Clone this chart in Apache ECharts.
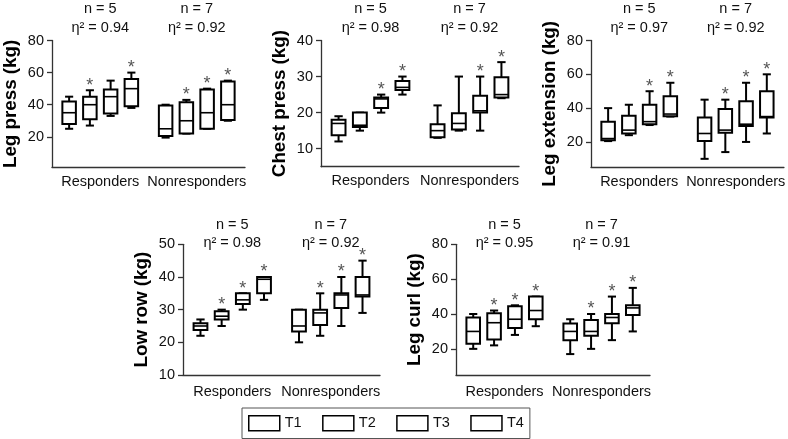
<!DOCTYPE html>
<html>
<head>
<meta charset="utf-8">
<script src="https://cdn.jsdelivr.net/npm/echarts@6.0.0/dist/echarts.min.js"></script>
<style>
html, body { margin: 0; padding: 0; background: #fff; }
#main { width: 788px; height: 439px; }
</style>
</head>
<body>
<div id="main"></div>
<script>
// 分组与时间点
var groups = ['Responders', 'Nonresponders'];
var timepoints = ['T1', 'T2', 'T3', 'T4'];
var nCounts = [5, 7];

// 每个时间点: [min, Q1, median, Q3, max]
var legPressResp = [[25, 28, 35, 42, 45], [27, 31, 40, 45, 49], [33, 34.5, 45, 49.5, 55], [38, 39, 50, 56, 60]];
var legPressNonresp = [[19.5, 20.5, 25, 39.5, 40], [22, 22, 30, 41.5, 43], [25, 25, 35, 49.5, 50], [30, 30.5, 40, 54.5, 55]];
var legPressStars = [[0, 1, 0, 1], [0, 1, 1, 1]];
var legPressEta = ['0.94', '0.92'];

var chestPressResp = [[12, 13.7, 17, 18, 19], [15, 16, 16.5, 20, 20], [20, 21.3, 23.8, 24.2, 25], [25, 26.3, 27, 28.8, 30]];
var chestPressNonresp = [[13, 13.2, 15, 16.8, 22], [15, 15.3, 17, 19.8, 30], [15, 20, 20.5, 24.7, 30], [24, 24.2, 25, 29.8, 34]];
var chestPressStars = [[0, 0, 1, 1], [0, 0, 1, 1]];
var chestPressEta = ['0.98', '0.92'];

var legExtResp = [[20.5, 21, 22, 32, 40], [24, 25, 27, 35.5, 42], [30, 30.5, 32, 42, 50], [35, 35.2, 36.5, 47, 55]];
var legExtNonresp = [[10, 20.5, 25, 34.5, 45], [14, 25.5, 27, 39.5, 45], [20, 29.5, 30.5, 44, 55], [25, 34.5, 35, 50, 60]];
var legExtStars = [[0, 0, 1, 1], [0, 1, 1, 1]];
var legExtEta = ['0.97', '0.92'];

var lowRowResp = [[22, 23.8, 25, 25.8, 27], [25, 27, 28, 29.5, 30], [30, 31.7, 33, 35, 35], [33, 35, 39.3, 40, 40]];
var lowRowNonresp = [[20, 23.3, 25, 30, 30], [22, 25.3, 29, 30, 35], [25, 30.5, 34.5, 35, 40], [29, 34, 34.5, 40, 45]];
var lowRowStars = [[0, 1, 1, 1], [0, 1, 1, 1]];
var lowRowEta = ['0.98', '0.92'];

var legCurlResp = [[20, 23, 30, 38, 40], [22, 25.3, 35, 40.5, 42], [28, 32, 37, 44.5, 45], [33, 37, 42, 50, 50]];
var legCurlNonresp = [[17, 25, 30, 34.5, 37], [20, 27.5, 30, 36.5, 40], [25, 34.7, 38, 40, 50], [30, 39.5, 43.5, 45, 55]];
var legCurlStars = [[0, 1, 1, 1], [0, 1, 1, 1]];
var legCurlEta = ['0.95', '0.91'];

// 坐标轴名称与刻度
var axisNames = ['Leg press (kg)', 'Chest press (kg)', 'Leg extension (kg)', 'Low row (kg)', 'Leg curl (kg)'];
var axisMin = [1, 5, 5, 10, 5];
var axisMax = [80, 40, 80, 50, 80];
var axisTicks = [[20, 40, 60, 80], [10, 20, 30, 40], [20, 40, 60, 80], [10, 20, 30, 40, 50], [20, 40, 60, 80]];

var panelData = [
    [legPressResp, legPressNonresp, legPressStars, legPressEta],
    [chestPressResp, chestPressNonresp, chestPressStars, chestPressEta],
    [legExtResp, legExtNonresp, legExtStars, legExtEta],
    [lowRowResp, lowRowNonresp, lowRowStars, lowRowEta],
    [legCurlResp, legCurlNonresp, legCurlStars, legCurlEta]
];

// 布局
var gridPos = [
    {left: 50, top: 36.7, width: 195, height: 130.6},
    {left: 321, top: 37.3, width: 198, height: 129.4},
    {left: 591, top: 36.7, width: 194, height: 130.6},
    {left: 183, top: 244.3, width: 197, height: 130.7},
    {left: 456, top: 244.3, width: 194, height: 130.7}
];
var topMargin = [3.5, 3.5, 3.5, -8, -8];
var bottomMargin = [7, 7, 7, 9, 9];

var FONT = 'Liberation Sans, Arial, sans-serif';
var axisColor = '#333';

function makeRender(t) {
    return function (params, api) {
        var cat = api.value(0);
        var band = api.size([1, 0])[0];
        var cx = api.coord([cat, 0])[0] + (t - 1.5) * band * 0.215;
        var bw = band * 0.14;
        var cw = bw * 0.6;
        var yMin = api.coord([cat, api.value(1)])[1];
        var yQ1 = api.coord([cat, api.value(2)])[1];
        var yMed = api.coord([cat, api.value(3)])[1];
        var yQ3 = api.coord([cat, api.value(4)])[1];
        var yMax = api.coord([cat, api.value(5)])[1];
        var ls = {stroke: '#000', lineWidth: 2};
        var children = [
            {type: 'line', shape: {x1: cx, y1: yMax, x2: cx, y2: yQ3}, style: ls},
            {type: 'line', shape: {x1: cx, y1: yQ1, x2: cx, y2: yMin}, style: ls},
            {type: 'line', shape: {x1: cx - cw / 2, y1: yMax, x2: cx + cw / 2, y2: yMax}, style: ls},
            {type: 'line', shape: {x1: cx - cw / 2, y1: yMin, x2: cx + cw / 2, y2: yMin}, style: ls},
            {type: 'rect', shape: {x: cx - bw / 2, y: yQ3, width: bw, height: yQ1 - yQ3}, style: {fill: '#fff', stroke: '#000', lineWidth: 2}},
            {type: 'line', shape: {x1: cx - bw / 2, y1: yMed, x2: cx + bw / 2, y2: yMed}, style: {stroke: '#000', lineWidth: 1.6}}
        ];
        // 显著性星号
        if (api.value(6) === 1) {
            children.push({
                type: 'text', x: cx, y: yMax - 4.5,
                style: {text: '*', fill: '#555', fontSize: 18, fontFamily: FONT, align: 'center', verticalAlign: 'middle'}
            });
        }
        return {type: 'group', children: children};
    };
}

var grids = [], xAxes = [], yAxes = [], series = [];
for (var i = 0; i < panelData.length; i++) {
    var resp = panelData[i][0], nonresp = panelData[i][1], stars = panelData[i][2];
    grids.push(gridPos[i]);
    xAxes.push({
        type: 'category', gridIndex: i, data: groups,
        axisLine: {lineStyle: {color: axisColor, width: 1.3}},
        axisTick: {alignWithLabel: true, length: 4, lineStyle: {color: axisColor, width: 1.3}},
        axisLabel: {interval: 0, fontSize: 14.5, fontFamily: FONT, color: '#111', margin: bottomMargin[i]}
    });
    yAxes.push({
        type: 'value', gridIndex: i, min: axisMin[i], max: axisMax[i],
        name: axisNames[i], nameLocation: 'middle', nameGap: 32,
        nameTextStyle: {fontWeight: 'bold', fontSize: 18.8, fontFamily: FONT, color: '#000'},
        axisLine: {show: true, lineStyle: {color: axisColor, width: 1.3}},
        axisTick: {show: true, length: 5, customValues: axisTicks[i], lineStyle: {color: axisColor, width: 1.3}},
        axisLabel: {customValues: axisTicks[i], fontSize: 14.5, fontFamily: FONT, color: '#111', margin: 8},
        splitLine: {show: false}
    });
    for (var t = 0; t < timepoints.length; t++) {
        var data = [
            [0].concat(resp[t], [stars[0][t]]),
            [1].concat(nonresp[t], [stars[1][t]])
        ];
        series.push({
            type: 'custom', name: timepoints[t],
            xAxisIndex: i, yAxisIndex: i,
            renderItem: makeRender(t),
            encode: {x: 0, y: [1, 2, 3, 4, 5]},
            itemStyle: {color: '#fff', borderColor: '#000', borderWidth: 1.5},
            data: data
        });
    }
}
// 顶部标注 n 和 η²
for (var i = 0; i < panelData.length; i++) {
    var eta = panelData[i][3];
    var topLabels = [];
    for (var g = 0; g < groups.length; g++) {
        topLabels.push('n = ' + nCounts[g] + '\nη² = ' + eta[g]);
    }
    xAxes.push({
        type: 'category', gridIndex: i, position: 'top', data: topLabels,
        axisLine: {show: false}, axisTick: {show: false},
        axisLabel: {interval: 0, fontSize: 14.5, fontFamily: FONT, color: '#111', lineHeight: 18.5, margin: topMargin[i]}
    });
}

var myChart = echarts.init(document.getElementById('main'));
var option = {
    animation: false,
    grid: grids,
    xAxis: xAxes,
    yAxis: yAxes,
    legend: {
        data: timepoints,
        left: 242, top: 408,
        padding: [7, 6, 7, 6],
        itemWidth: 31, itemHeight: 15, itemGap: 20.4,
        icon: 'rect',
        borderColor: '#555', borderWidth: 1,
        itemStyle: {color: '#fff', borderColor: '#000', borderWidth: 1.5},
        textStyle: {fontSize: 14.5, fontFamily: FONT, color: '#111'},
        selectedMode: false
    },
    series: series
};
myChart.setOption(option);
</script>
</body>
</html>
